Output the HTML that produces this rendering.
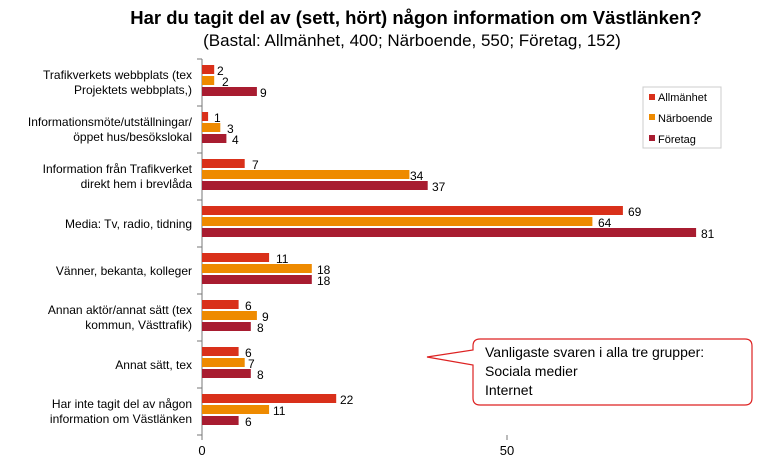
<!DOCTYPE html>
<html><head><meta charset="utf-8"><style>
body{margin:0;background:#fff;width:767px;height:459px;overflow:hidden;font-family:"Liberation Sans",sans-serif}
</style></head><body>
<svg width="767" height="459" xmlns="http://www.w3.org/2000/svg" font-family="Liberation Sans, sans-serif">
<text x="416" y="24" text-anchor="middle" font-size="18.5" font-weight="bold">Har du tagit del av (sett, hört) någon information om Västlänken?</text>
<text x="412" y="46" text-anchor="middle" font-size="17">(Bastal: Allmänhet, 400; Närboende, 550; Företag, 152)</text>
<line x1="202" y1="59" x2="202" y2="435" stroke="#777"/>
<line x1="202" y1="435" x2="202" y2="440" stroke="#777"/>
<line x1="507" y1="435" x2="507" y2="440" stroke="#777"/>
<g stroke="#777">
<line x1="197" y1="59" x2="202" y2="59"/><line x1="197" y1="106" x2="202" y2="106"/><line x1="197" y1="153" x2="202" y2="153"/><line x1="197" y1="200" x2="202" y2="200"/><line x1="197" y1="247" x2="202" y2="247"/><line x1="197" y1="294" x2="202" y2="294"/><line x1="197" y1="341" x2="202" y2="341"/><line x1="197" y1="388" x2="202" y2="388"/><line x1="197" y1="435" x2="202" y2="435"/>
</g>
<text x="202" y="455" text-anchor="middle" font-size="13">0</text>
<text x="507" y="455" text-anchor="middle" font-size="13">50</text>
<g font-size="12" text-anchor="end">
<text x="192" y="79">Trafikverkets webbplats (tex</text><text x="192" y="94">Projektets webbplats,)</text>
<text x="192" y="126">Informationsmöte/utställningar/</text><text x="192" y="141">öppet hus/besökslokal</text>
<text x="192" y="173">Information från Trafikverket</text><text x="192" y="188">direkt hem i brevlåda</text>
<text x="192" y="228">Media: Tv, radio, tidning</text>
<text x="192" y="275">Vänner, bekanta, kolleger</text>
<text x="192" y="314">Annan aktör/annat sätt (tex</text><text x="192" y="329">kommun, Västtrafik)</text>
<text x="192" y="369">Annat sätt, tex</text>
<text x="192" y="408">Har inte tagit del av någon</text><text x="192" y="423">information om Västlänken</text>
</g>
<g>
<rect x="202" y="65" width="12.2" height="9" fill="#d9301a"/><rect x="202" y="76" width="12.2" height="9" fill="#ee8a00"/><rect x="202" y="87" width="54.9" height="9" fill="#a81c30"/>
<rect x="202" y="112" width="6.1" height="9" fill="#d9301a"/><rect x="202" y="123" width="18.3" height="9" fill="#ee8a00"/><rect x="202" y="134" width="24.4" height="9" fill="#a81c30"/>
<rect x="202" y="159" width="42.7" height="9" fill="#d9301a"/><rect x="202" y="170" width="207.4" height="9" fill="#ee8a00"/><rect x="202" y="181" width="225.7" height="9" fill="#a81c30"/>
<rect x="202" y="206" width="420.9" height="9" fill="#d9301a"/><rect x="202" y="217" width="390.4" height="9" fill="#ee8a00"/><rect x="202" y="228" width="494.1" height="9" fill="#a81c30"/>
<rect x="202" y="253" width="67.1" height="9" fill="#d9301a"/><rect x="202" y="264" width="109.8" height="9" fill="#ee8a00"/><rect x="202" y="275" width="109.8" height="9" fill="#a81c30"/>
<rect x="202" y="300" width="36.6" height="9" fill="#d9301a"/><rect x="202" y="311" width="54.9" height="9" fill="#ee8a00"/><rect x="202" y="322" width="48.8" height="9" fill="#a81c30"/>
<rect x="202" y="347" width="36.6" height="9" fill="#d9301a"/><rect x="202" y="358" width="42.7" height="9" fill="#ee8a00"/><rect x="202" y="369" width="48.8" height="9" fill="#a81c30"/>
<rect x="202" y="394" width="134.2" height="9" fill="#d9301a"/><rect x="202" y="405" width="67.1" height="9" fill="#ee8a00"/><rect x="202" y="416" width="36.6" height="9" fill="#a81c30"/>
</g>
<g font-size="12">
<text x="217" y="75">2</text><text x="222" y="86">2</text><text x="260" y="97">9</text>
<text x="214" y="122">1</text><text x="227" y="133">3</text><text x="232" y="144">4</text>
<text x="252" y="169">7</text><text x="410" y="180">34</text><text x="432" y="191">37</text>
<text x="628" y="216">69</text><text x="598" y="227">64</text><text x="701" y="238">81</text>
<text x="276" y="263">11</text><text x="317" y="274">18</text><text x="317" y="285">18</text>
<text x="245" y="310">6</text><text x="262" y="321">9</text><text x="257" y="332">8</text>
<text x="245" y="357">6</text><text x="248" y="368">7</text><text x="257" y="379">8</text>
<text x="340" y="404">22</text><text x="273" y="415">11</text><text x="245" y="426">6</text>
</g>
<rect x="643" y="87" width="78" height="61" fill="#fff" stroke="#ccc"/>
<rect x="649" y="94" width="6" height="6" fill="#d9301a"/><text x="658" y="101" font-size="11">Allmänhet</text>
<rect x="649" y="114" width="6" height="6" fill="#ee8a00"/><text x="658" y="122" font-size="11">Närboende</text>
<rect x="649" y="135" width="6" height="6" fill="#a81c30"/><text x="658" y="143" font-size="11">Företag</text>
<path d="M480,339 H745 Q752,339 752,346 V398 Q752,405 745,405 H480 Q473,405 473,398 V365 L427,357 L473,350 V346 Q473,339 480,339 Z" fill="#fff" stroke="#d22" stroke-width="1.2"/>
<text x="485" y="357" font-size="14">Vanligaste svaren i alla tre grupper:</text>
<text x="485" y="376" font-size="14">Sociala medier</text>
<text x="485" y="395" font-size="14">Internet</text>
</svg>
</body></html>
